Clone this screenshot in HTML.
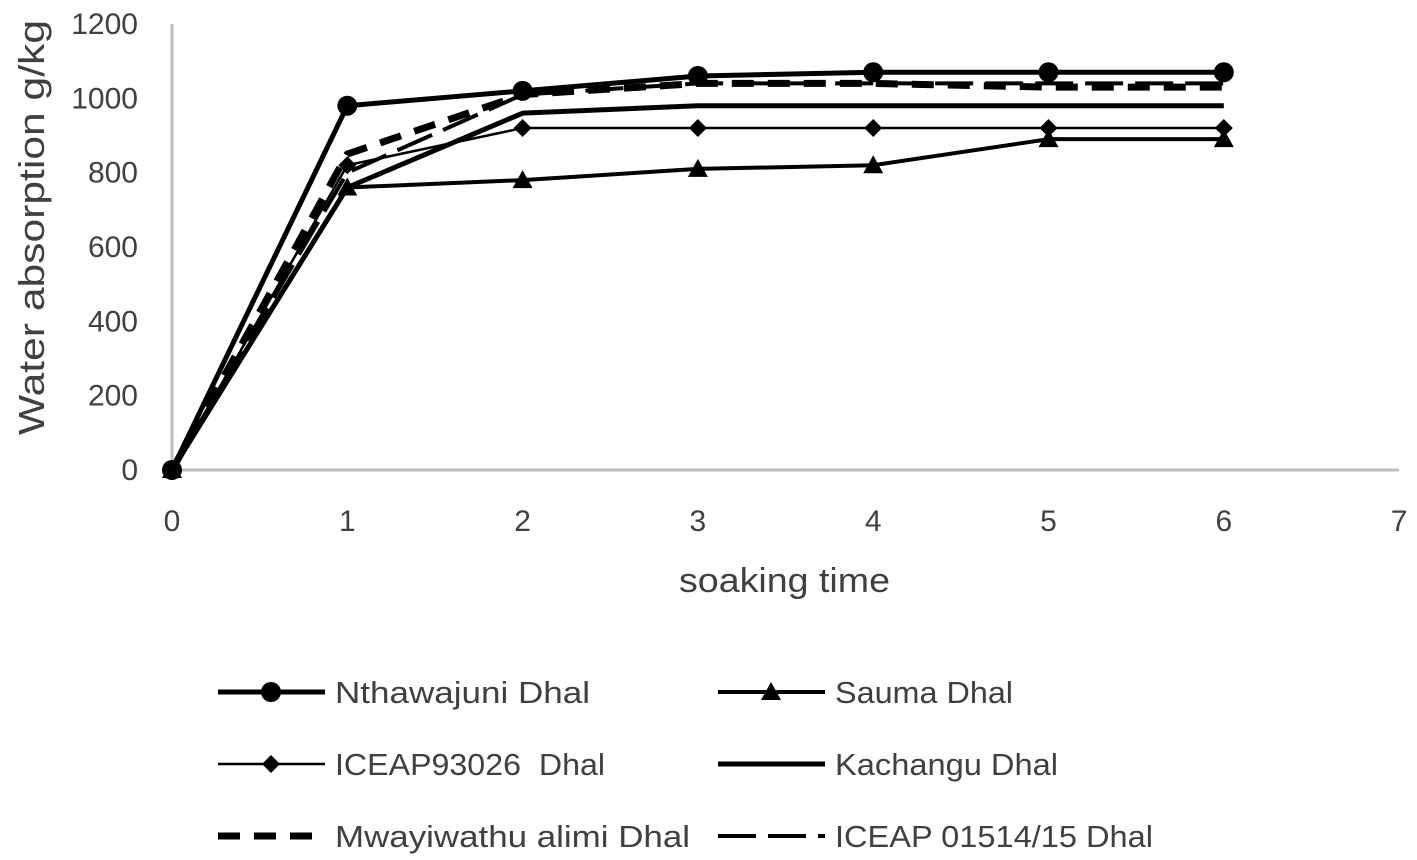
<!DOCTYPE html>
<html><head><meta charset="utf-8"><style>
body{margin:0;background:#fff;}
svg{display:block;font-family:"Liberation Sans",sans-serif;}
</style></head><body>
<svg id="chart" width="1417" height="860" viewBox="0 0 1417 860">
<g id="axes"></g><g id="series"></g><g id="legend"></g>
</svg>
<script>
const xValues=[0,1,2,3,4,5,6];
const xTicks=[0,1,2,3,4,5,6,7];
const yTicks=[0,200,400,600,800,1000,1200];
const nthawajuni=[0,980,1020,1060,1070,1070,1070];
const sauma=[0,760,780,810,820,890,890];
const iceap93026=[0,820,920,920,920,920,920];
const kachangu=[0,760,960,980,980,980,980];
const mwayiwathu=[0,850,1010,1040,1040,1030,1030];
const iceap01514=[0,800,1010,1040,1040,1040,1040];
const NS="http://www.w3.org/2000/svg";
function X(v){return 172+v*175.3;}
function Y(v){return 470-v*0.3717;}
function mk(t,a,p){const e=document.createElementNS(NS,t);for(const k in a)e.setAttribute(k,a[k]);p.appendChild(e);return e;}
const ax=document.getElementById('axes');
const yl=mk('line',{x1:172,y1:Y(1200),x2:172,y2:470,stroke:'#bfbfbf','stroke-width':3},ax);


const xl=mk('line',{x1:172,y1:470,x2:X(7),y2:470,stroke:'#bfbfbf','stroke-width':3},ax);


yTicks.forEach(v=>{const t=mk('text',{x:138,y:Y(v)+10,'text-anchor':'end','font-size':30,fill:'#404040'},ax);t.textContent=v;

});
xTicks.forEach(v=>{const t=mk('text',{x:X(v),y:531,'text-anchor':'middle','font-size':30,fill:'#404040'},ax);t.textContent=v;

});
const xt=mk('text',{x:679,y:592,'font-size':34,fill:'#404040',textLength:211,lengthAdjust:'spacingAndGlyphs'},ax);xt.textContent='soaking time';


const yt=mk('text',{x:0,y:0,'font-size':36,fill:'#404040',transform:'translate(44,435) rotate(-90)',textLength:415,lengthAdjust:'spacingAndGlyphs'},ax);yt.textContent='Water absorption g/kg';


const series=[
{name:'Nthawajuni Dhal',d:nthawajuni,w:5,dash:'',m:'circle',id:'nthawajuni',tl:255},
{name:'Sauma Dhal',d:sauma,w:4,dash:'',m:'triangle',id:'sauma',tl:178},
{name:'ICEAP93026  Dhal',d:iceap93026,w:2.5,dash:'',m:'diamond',id:'iceap93026',tl:270},
{name:'Kachangu Dhal',d:kachangu,w:5,dash:'',m:'',id:'kachangu',tl:223},
{name:'Mwayiwathu alimi Dhal',d:mwayiwathu,w:7,dash:'22 14',m:'',id:'mwayiwathu',tl:355},
{name:'ICEAP 01514/15 Dhal',d:iceap01514,w:4,dash:'38 12',m:'',id:'iceap01514',tl:318}];
function marker(type,x,y,g){
 if(type==='circle')return mk('circle',{cx:x,cy:y,r:10,fill:'#000'},g);
 if(type==='triangle')return mk('polygon',{points:`${x},${y-10} ${x+10},${y+8} ${x-10},${y+8}`,fill:'#000'},g);
 if(type==='diamond')return mk('polygon',{points:`${x},${y-9} ${x+9},${y} ${x},${y+9} ${x-9},${y}`,fill:'#000'},g);
}
const sg=document.getElementById('series');
series.forEach(s=>{
 const g=mk('g',{},sg);
 
 
 const p=mk('polyline',{points:s.d.map((v,i)=>X(xValues[i])+','+Y(v)).join(' '),fill:'none',stroke:'#000','stroke-width':s.w,'stroke-dasharray':s.dash,'stroke-linejoin':'round'},g);
 
 
 if(s.m)s.d.forEach((v,i)=>{const m=marker(s.m,X(xValues[i]),Y(v),g);
 
 });
});
const lg=document.getElementById('legend');
series.forEach((s,i)=>{
 const col=i%2,row=Math.floor(i/2);
 const x0=col?718:218,y=692+row*72;
 const g=mk('g',{},lg);
 
 
 mk('line',{x1:x0,y1:y,x2:x0+107,y2:y,stroke:'#000','stroke-width':s.w,'stroke-dasharray':s.dash},g);
 if(s.m)marker(s.m,x0+53,y,g);
 const t=mk('text',{x:x0+117,y:y+11,'font-size':31,fill:'#404040',textLength:s.tl,lengthAdjust:'spacingAndGlyphs'},g);t.textContent=s.name;
 t.style.whiteSpace='pre';
});
</script>
</body></html>
